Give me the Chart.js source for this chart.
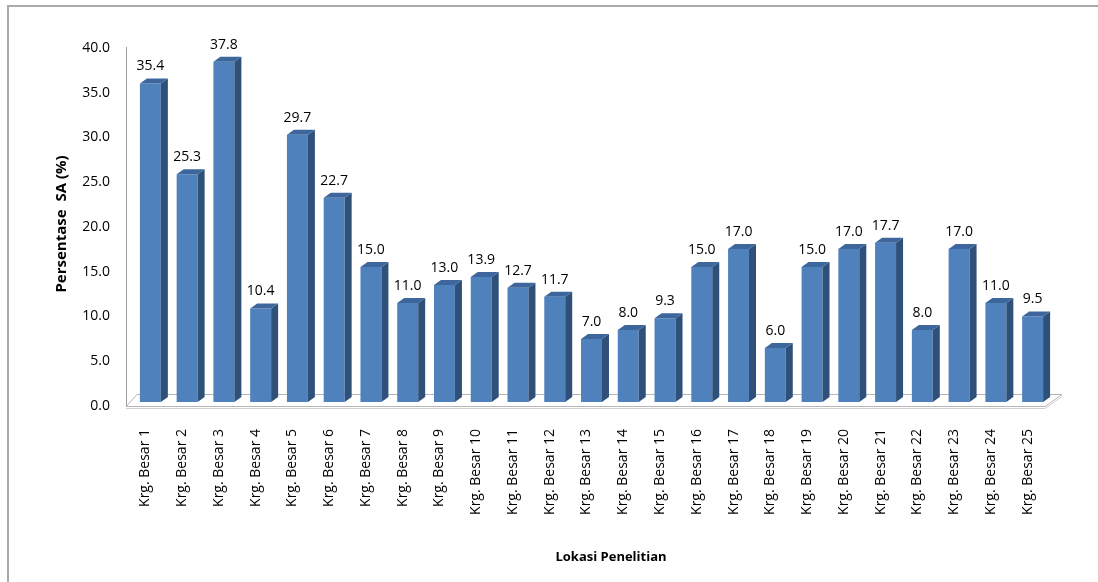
<!DOCTYPE html>
<html>
<head>
<meta charset="utf-8">
<script src="https://cdn.jsdelivr.net/npm/chart.js@4/dist/chart.umd.min.js"></script>
<style>
  html, body { margin: 0; padding: 0; background: #fff; }
  #wrap { width: 1098px; height: 582px; position: relative; }
</style>
</head>
<body>
<div id="wrap"><canvas id="c" width="1098" height="582"></canvas></div>
<script>
// Categories (sampling locations)
const locations = [
  'Krg. Besar 1', 'Krg. Besar 2', 'Krg. Besar 3', 'Krg. Besar 4', 'Krg. Besar 5',
  'Krg. Besar 6', 'Krg. Besar 7', 'Krg. Besar 8', 'Krg. Besar 9', 'Krg. Besar 10',
  'Krg. Besar 11', 'Krg. Besar 12', 'Krg. Besar 13', 'Krg. Besar 14', 'Krg. Besar 15',
  'Krg. Besar 16', 'Krg. Besar 17', 'Krg. Besar 18', 'Krg. Besar 19', 'Krg. Besar 20',
  'Krg. Besar 21', 'Krg. Besar 22', 'Krg. Besar 23', 'Krg. Besar 24', 'Krg. Besar 25'
];

// Percentage SA per location
const persentaseSA = [
  35.4, 25.3, 37.8, 10.4, 29.7, 22.7, 15.0, 11.0, 13.0, 13.9,
  12.7, 11.7, 7.0, 8.0, 9.3, 15.0, 17.0, 6.0, 15.0, 17.0,
  17.7, 8.0, 17.0, 11.0, 9.5
];

// Value axis tick values
const yTicks = [0, 5, 10, 15, 20, 25, 30, 35, 40];

const xTitle = 'Lokasi Penelitian';
const yTitle = 'Persentase  SA (%)';

const FONT = "'Open Sans', 'Liberation Sans', sans-serif";
const FRONT = '#4F81BD';
const SIDE = '#2F5079';
const TOP = '#3D679C';
const DEPTH_X = 7, DEPTH_Y = -5;     // bar extrusion
const FLOOR_X = 14, FLOOR_Y = -12;   // floor depth

// Frame, floor, value axis line and x title
const backdrop = {
  id: 'backdrop',
  beforeDraw(chart) {
    const ctx = chart.ctx;
    const area = chart.chartArea;
    ctx.save();
    // outer frame
    ctx.strokeStyle = '#a9a9a9';
    ctx.lineWidth = 2;
    ctx.beginPath();
    ctx.moveTo(8, 582);
    ctx.lineTo(8, 6);
    ctx.lineTo(1098, 6);
    ctx.stroke();

    // floor parallelogram
    const fl = area.left - 6, fr = area.right - 6, fy = area.bottom;
    ctx.fillStyle = '#ffffff';
    ctx.strokeStyle = '#b5b5b5';
    ctx.lineWidth = 1;
    ctx.beginPath();
    ctx.moveTo(fl, fy + 0.5);
    ctx.lineTo(fr, fy + 0.5);
    ctx.lineTo(fr + FLOOR_X + 3, fy + FLOOR_Y + 0.5);
    ctx.lineTo(fl + FLOOR_X - 3, fy + FLOOR_Y + 0.5);
    ctx.closePath();
    ctx.fill();
    ctx.stroke();
    ctx.strokeStyle = '#d0d0d0';
    ctx.beginPath();
    ctx.moveTo(fl, fy + 2.5);
    ctx.lineTo(fr, fy + 2.5);
    ctx.lineTo(fr + FLOOR_X + 3, fy + FLOOR_Y + 2.5);
    ctx.stroke();

    // value axis line
    ctx.strokeStyle = '#a0a0a0';
    ctx.beginPath();
    ctx.moveTo(fl + 0.5, area.top + 5);
    ctx.lineTo(fl + 0.5, fy);
    ctx.stroke();

    // category axis title
    ctx.fillStyle = '#000';
    ctx.font = "bold 13px " + FONT;
    ctx.textAlign = 'center';
    ctx.textBaseline = 'middle';
    ctx.fillText(xTitle, 611, 557);
    ctx.restore();
  }
};

// Side and top faces of every bar, plus value labels
const extrude = {
  id: 'extrude',
  afterDatasetsDraw(chart) {
    const ctx = chart.ctx;
    const meta = chart.getDatasetMeta(0);
    ctx.save();
    meta.data.forEach((bar, i) => {
      const { x, y, base, width } = bar.getProps(['x', 'y', 'base', 'width'], true);
      const l = x - width / 2, r = x + width / 2;
      // side face
      ctx.fillStyle = SIDE;
      ctx.beginPath();
      ctx.moveTo(r, base);
      ctx.lineTo(r, y);
      ctx.lineTo(r + DEPTH_X, y + DEPTH_Y);
      ctx.lineTo(r + DEPTH_X, base + DEPTH_Y);
      ctx.closePath();
      ctx.fill();
      // top face
      ctx.fillStyle = TOP;
      ctx.beginPath();
      ctx.moveTo(l, y);
      ctx.lineTo(r, y);
      ctx.lineTo(r + DEPTH_X, y + DEPTH_Y);
      ctx.lineTo(l + DEPTH_X, y + DEPTH_Y);
      ctx.closePath();
      ctx.fill();
      // value label
      ctx.fillStyle = '#000';
      ctx.font = "14px " + FONT;
      ctx.textAlign = 'center';
      ctx.textBaseline = 'middle';
      ctx.fillText(persentaseSA[i].toFixed(1), x, y - 17);
    });
    ctx.restore();
  }
};

new Chart(document.getElementById('c'), {
  type: 'bar',
  data: {
    labels: locations,
    datasets: [{
      data: persentaseSA,
      backgroundColor: FRONT,
      borderWidth: 0,
      barPercentage: 0.57,
      categoryPercentage: 1.0,
      yAxisID: 'y'
    }]
  },
  options: {
    responsive: false,
    animation: false,
    events: [],
    layout: { padding: { left: 53, right: 47, top: 42, bottom: 0 } },
    plugins: { legend: { display: false }, tooltip: { enabled: false } },
    scales: {
      x: {
        grid: { display: false, drawTicks: false },
        border: { display: false },
        ticks: {
          autoSkip: false,
          minRotation: 90,
          maxRotation: 90,
          padding: 23,
          labelOffset: -5,
          color: '#000',
          font: { family: FONT, size: 14 }
        },
        afterFit(scale) { scale.height = 176; }
      },
      y: {
        display: false,
        min: -0.444,
        max: 40,
        grid: { display: false }
      },
      yt: {
        position: 'left',
        min: 0,
        max: 40.67,
        grid: { display: false, drawTicks: false },
        border: { display: false },
        afterBuildTicks(scale) { scale.ticks = yTicks.map(v => ({ value: v })); },
        ticks: {
          padding: 22,
          color: '#000',
          font: { family: FONT, size: 14 },
          callback: v => Number(v).toFixed(1)
        },
        title: {
          display: true,
          text: yTitle,
          color: '#000',
          padding: 0,
          font: { family: FONT, size: 15, weight: 'bold' }
        },
        afterFit(scale) { scale.width = 79; }
      }
    }
  },
  plugins: [backdrop, extrude]
});
</script>
</body>
</html>
